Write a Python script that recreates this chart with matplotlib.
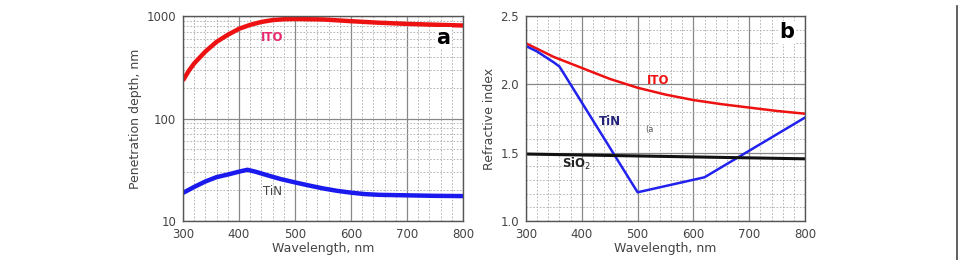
import numpy as np
import matplotlib.pyplot as plt
from matplotlib.ticker import MultipleLocator, LogLocator, NullFormatter

# panel a: penetration depth
wl_ito_a = [300, 310, 320, 340, 360, 380, 400, 420, 440, 460, 480, 500,
            550, 600, 650, 700, 750, 800]
ito_depth = [235, 290, 345, 450, 560, 655, 750, 820, 875, 912, 930, 935,
             925, 890, 860, 838, 822, 808]
wl_tin_a = [300, 320, 340, 360, 380, 400, 415, 430, 450, 475, 500, 525,
            550, 575, 600, 625, 650, 700, 750, 800]
tin_depth = [18.8, 21.5, 24.3, 26.8, 28.4, 30.3, 31.6, 30.2, 28.0, 25.6, 23.8, 22.2,
             20.8, 19.7, 18.9, 18.3, 18.0, 17.8, 17.6, 17.5]

# panel b: refractive index
wl_ito_b = [300, 350, 400, 450, 500, 550, 600, 650, 700, 750, 800]
ito_n = [2.30, 2.20, 2.12, 2.04, 1.975, 1.925, 1.885, 1.855, 1.83, 1.805, 1.785]
wl_tin_b = [300, 320, 350, 360, 500, 620, 800]
tin_n = [2.28, 2.24, 2.16, 2.13, 1.21, 1.32, 1.757]
wl_sio2 = [300, 800]
sio2_n = [1.49, 1.455]

plt.rcParams['font.family'] = 'DejaVu Sans'
fig = plt.figure(figsize=(9.59, 2.6), dpi=100)
W, H = 959, 260
ax1 = fig.add_axes([183 / W, 1 - 221 / H, 280 / W, 205 / H])
ax2 = fig.add_axes([526 / W, 1 - 221 / H, 279 / W, 205 / H])

tick_col = '#444444'
for ax in (ax1, ax2):
    ax.set_xlim(300, 800)
    ax.xaxis.set_major_locator(MultipleLocator(100))
    ax.xaxis.set_minor_locator(MultipleLocator(20))
    ax.grid(which='major', color='#888888', lw=0.9)
    ax.grid(which='minor', color='#aaaaaa', lw=0.6, ls=(0, (2, 2)))
    ax.tick_params(which='both', length=0, labelsize=8.5, labelcolor=tick_col)
    ax.tick_params(axis='x', pad=5)
    ax.tick_params(axis='y', pad=5)
    for s in ax.spines.values():
        s.set_color('#555555')
        s.set_linewidth(1.0)
    ax.set_xlabel('Wavelength, nm', fontsize=9, color=tick_col, labelpad=1)
    ax.set_axisbelow(True)

# panel a
ax1.set_yscale('log')
ax1.set_ylim(10, 1000)
ax1.yaxis.set_minor_locator(LogLocator(base=10, subs=np.arange(2, 10)))
ax1.yaxis.set_minor_formatter(NullFormatter())
ax1.set_yticks([10, 100, 1000])
ax1.set_yticklabels(['10', '100', '1000'])
ax1.plot(wl_ito_a, ito_depth, color='#ee1111', lw=3.2, solid_capstyle='butt')
ax1.plot(wl_tin_a, tin_depth, color='#1a1aee', lw=3.2, solid_capstyle='butt')
ax1.set_ylabel('Penetration depth, nm', fontsize=9, color=tick_col, labelpad=3)
ax1.text(460, 620, 'ITO', color='#e8286e', fontsize=8.5, fontweight='bold', ha='center', va='center')
ax1.text(460, 19.2, 'TiN', color='#444444', fontsize=8.5, ha='center', va='center')
ax1.text(765, 610, 'a', fontsize=15, fontweight='bold', ha='center', va='center',
         bbox=dict(facecolor='white', edgecolor='none', pad=1))

# panel b
ax2.set_ylim(1.0, 2.5)
ax2.yaxis.set_major_locator(MultipleLocator(0.5))
ax2.yaxis.set_minor_locator(MultipleLocator(0.1))
ax2.yaxis.set_major_formatter(plt.FormatStrFormatter('%.1f'))
ax2.plot(wl_ito_b, ito_n, color='#ee1111', lw=1.8)
ax2.plot(wl_tin_b, tin_n, color='#2222ee', lw=1.8)
ax2.plot(wl_sio2, sio2_n, color='#111111', lw=2.2)
ax2.set_ylabel('Refractive index', fontsize=9, color=tick_col, labelpad=3)
ax2.text(537, 2.03, 'ITO', color='#ee1111', fontsize=8.5, fontweight='bold', ha='center', va='center')
ax2.text(450, 1.725, 'TiN', color='#22227a', fontsize=8.5, fontweight='bold', ha='center', va='center')
ax2.text(522, 1.666, '(a', color='#555555', fontsize=6, ha='center', va='center')
ax2.text(390, 1.42, 'SiO$_2$', color='#222222', fontsize=8.5, fontweight='bold', ha='center', va='center')
ax2.text(768, 2.38, 'b', fontsize=15, fontweight='bold', ha='center', va='center',
         bbox=dict(facecolor='white', edgecolor='none', pad=1))

# frame edge on the right
fig.add_artist(plt.Line2D([957 / W, 957 / W], [0, 1 - 6 / H], color='#444444', lw=1.2))

fig.savefig('out.png', dpi=100)
